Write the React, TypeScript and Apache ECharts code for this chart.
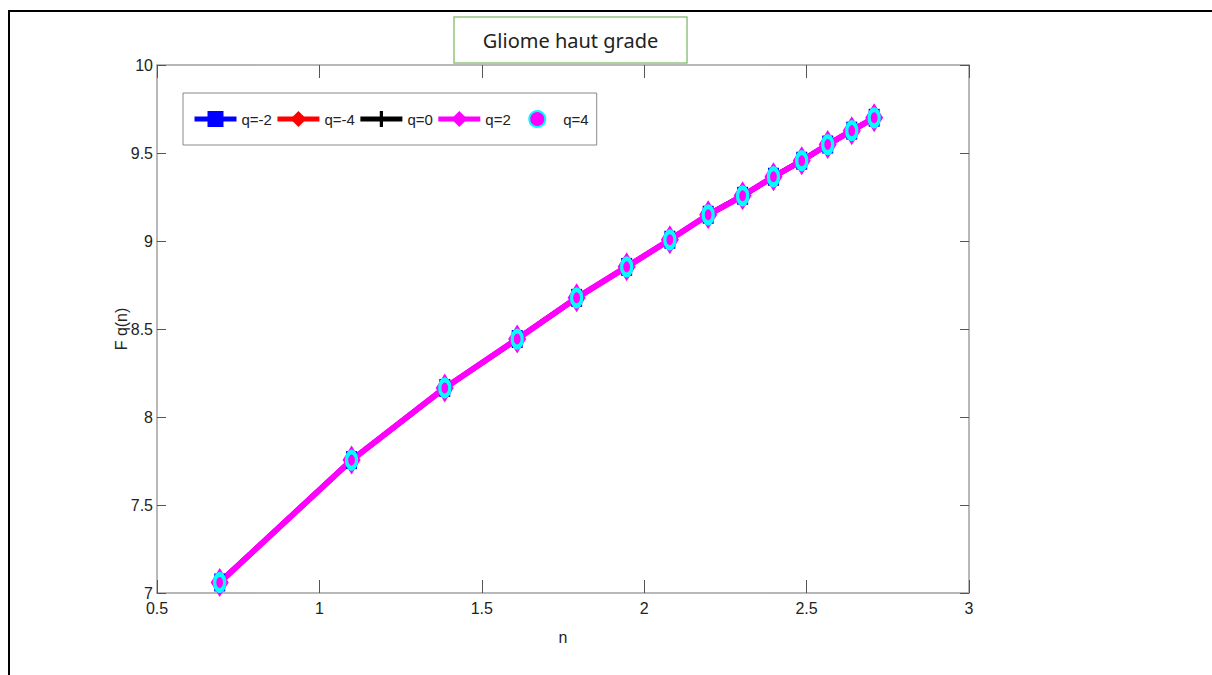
import React, { useEffect, useRef } from "react";
import * as echarts from "echarts";

// x values (n axis) and Fq(n) values; all five q curves coincide
const nValues = [0.693, 1.099, 1.386, 1.609, 1.792, 1.946, 2.079, 2.197, 2.303, 2.398, 2.485, 2.565, 2.639, 2.708];
const fqQm2 = [7.06, 7.755, 8.165, 8.443, 8.677, 8.853, 9.007, 9.149, 9.257, 9.365, 9.456, 9.548, 9.627, 9.70];
const fqQm4 = [7.06, 7.755, 8.165, 8.443, 8.677, 8.853, 9.007, 9.149, 9.257, 9.365, 9.456, 9.548, 9.627, 9.70];
const fqQ0 = [7.06, 7.755, 8.165, 8.443, 8.677, 8.853, 9.007, 9.149, 9.257, 9.365, 9.456, 9.548, 9.627, 9.70];
const fqQ2 = [7.06, 7.755, 8.165, 8.443, 8.677, 8.853, 9.007, 9.149, 9.257, 9.365, 9.456, 9.548, 9.627, 9.70];
const fqQ4 = [7.06, 7.755, 8.165, 8.443, 8.677, 8.853, 9.007, 9.149, 9.257, 9.365, 9.456, 9.548, 9.627, 9.70];
const seriesNames = ["q=-2", "q=-4", "q=0", "q=2", "q=4"];
const chartTitle = "Gliome haut grade";

const pair = (ys: number[]) => nValues.map((x, i) => [x, ys[i]]);

const FONT = '"Liberation Sans Narrow", "Arial Narrow", "Liberation Sans", Arial, sans-serif';
const AXIS_GRAY = "#a0a0a0";
const TICK_GRAY = "#555555";

export default function App() {
  const ref = useRef<HTMLDivElement>(null);
  useEffect(() => {
    if (!ref.current) return;
    const chart = echarts.init(ref.current, undefined, { renderer: "svg" });
    const baseX = {
      type: "value" as const,
      min: 0.5,
      max: 3,
      interval: 0.5,
      axisLine: { show: true, lineStyle: { color: AXIS_GRAY, width: 1.5 } },
      axisTick: { show: true, inside: true, length: 13, lineStyle: { color: TICK_GRAY, width: 1 } },
      splitLine: { show: false },
    };
    const baseY = {
      type: "value" as const,
      min: 7,
      max: 10,
      interval: 0.5,
      axisLine: { show: true, lineStyle: { color: AXIS_GRAY, width: 1.5 } },
      axisTick: { show: true, inside: true, length: 9, lineStyle: { color: TICK_GRAY, width: 1 } },
      splitLine: { show: false },
    };
    const option = {
      animation: false,
      backgroundColor: "#ffffff",
      grid: { left: 157, top: 65, width: 812, height: 528, containLabel: false },
      graphic: [
        {
          type: "rect",
          shape: { x: 9, y: 11, width: 1400, height: 900 },
          style: { fill: "none", stroke: "#000000", lineWidth: 2 },
          silent: true,
        },
        {
          type: "rect",
          shape: { x: 454, y: 17, width: 233, height: 46 },
          style: { fill: "#ffffff", stroke: "#93c47d", lineWidth: 1.5 },
          silent: true,
        },
        {
          type: "text",
          x: 570.5,
          y: 40,
          style: {
            text: chartTitle,
            fill: "#222222",
            font: '20px "Noto Sans", "Open Sans", sans-serif',
            align: "center",
            verticalAlign: "middle",
          },
          silent: true,
        },
      ],
      legend: {
        left: 183,
        top: 93,
        padding: [17, 8, 17, 9],
        backgroundColor: "#ffffff",
        borderColor: "#888888",
        borderWidth: 1,
        itemWidth: 42,
        itemHeight: 20,
        itemGap: 3,
        lineStyle: { width: 5 },
        textStyle: { fontSize: 15, fontFamily: FONT, color: "#222222" },
        data: seriesNames,
      },
      xAxis: [
        {
          ...baseX,
          position: "bottom",
          name: "n",
          nameLocation: "middle",
          nameGap: 36,
          nameMoveOverlap: false,
          nameTextStyle: { fontSize: 16, fontFamily: FONT, color: "#222222" },
          axisLabel: { show: true, fontSize: 16, fontFamily: FONT, color: "#222222", margin: 7 },
        },
        { ...baseX, position: "top", axisLabel: { show: false } },
      ],
      yAxis: [
        {
          ...baseY,
          position: "left",
          name: "F q(n)",
          nameLocation: "middle",
          nameGap: 28,
          nameMoveOverlap: false,
          nameTextStyle: { fontSize: 16, fontFamily: FONT, color: "#222222" },
          axisLabel: { show: true, fontSize: 16, fontFamily: FONT, color: "#222222", margin: 4 },
        },
        { ...baseY, position: "right", axisLabel: { show: false } },
      ],
      series: [
        {
          name: seriesNames[0],
          type: "line",
          data: pair(fqQm2),
          symbol: "rect",
          symbolSize: [11, 18],
          showAllSymbol: true,
          itemStyle: { color: "#0000ff" },
          lineStyle: { color: "#0000ff", width: 5 },
        },
        {
          name: seriesNames[1],
          type: "line",
          data: pair(fqQm4),
          symbol: "diamond",
          symbolSize: [10, 17],
          showAllSymbol: true,
          itemStyle: { color: "#ff0000" },
          lineStyle: { color: "#ff0000", width: 5 },
        },
        {
          name: seriesNames[2],
          type: "line",
          data: pair(fqQ0),
          symbol: "path://M4,0H6V10H4ZM0,4H10V6H0Z",
          symbolSize: [14, 20],
          showAllSymbol: true,
          itemStyle: { color: "#000000" },
          lineStyle: { color: "#000000", width: 5 },
        },
        {
          name: seriesNames[3],
          type: "line",
          data: pair(fqQ2),
          symbol: "diamond",
          symbolSize: [18, 29],
          showAllSymbol: true,
          itemStyle: { color: "#ff00ff" },
          lineStyle: { color: "#ff00ff", width: 6 },
        },
        {
          name: seriesNames[4],
          type: "line",
          data: pair(fqQ4),
          symbol: "circle",
          symbolSize: [10, 16],
          showAllSymbol: true,
          itemStyle: { color: "#ff00ff", borderColor: "#00ffff", borderWidth: 4 },
          lineStyle: { color: "#00ffff", width: 0, opacity: 0 },
        },
      ],
    };
    chart.setOption(option as any);
    return () => chart.dispose();
  }, []);
  return (
    <div
      ref={ref}
      style={{ position: "fixed", left: 0, top: 0, width: 1212, height: 675, background: "#ffffff" }}
    />
  );
}
